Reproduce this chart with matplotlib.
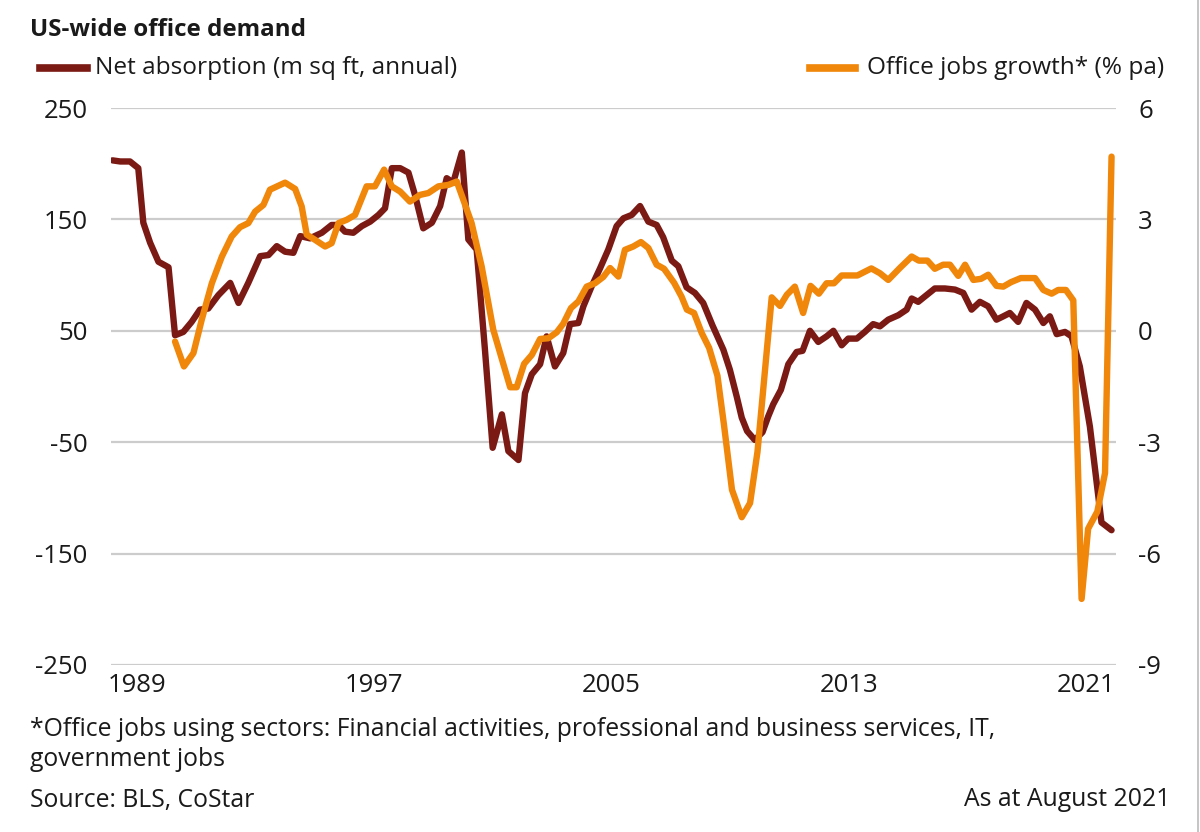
import matplotlib
matplotlib.use("Agg")
import matplotlib.pyplot as plt
from matplotlib.lines import Line2D

plt.rcParams['font.family'] = ['Open Sans', 'DejaVu Sans']
plt.rcParams['axes.unicode_minus'] = False

# ---- data ----
absorption_years = [1988.17, 1988.43, 1988.76, 1989.04, 1989.21, 1989.44, 1989.72, 1990.06, 1990.28, 1990.56,
                    1990.84, 1991.12, 1991.40, 1991.74, 1992.14, 1992.42, 1992.75, 1993.15, 1993.43, 1993.71,
                    1993.99, 1994.27, 1994.50, 1994.83, 1995.23, 1995.56, 1995.79, 1996.01, 1996.29, 1996.58,
                    1996.86, 1997.14, 1997.36, 1997.59, 1997.87, 1998.15, 1998.37, 1998.65, 1998.94, 1999.22,
                    1999.44, 1999.66, 1999.95, 2000.17, 2000.45, 2000.73, 2000.99, 2001.30, 2001.52, 2001.86,
                    2002.08, 2002.31, 2002.59, 2002.81, 2003.09, 2003.37, 2003.60, 2003.88, 2004.05, 2004.33,
                    2004.61, 2004.89, 2005.17, 2005.40, 2005.68, 2005.96, 2006.24, 2006.52, 2006.74, 2007.03,
                    2007.25, 2007.53, 2007.81, 2008.09, 2008.40, 2008.77, 2008.99, 2009.22, 2009.39, 2009.57,
                    2009.83, 2010.09, 2010.28, 2010.45, 2010.71, 2010.96, 2011.24, 2011.44, 2011.69, 2011.97,
                    2012.25, 2012.48, 2012.76, 2012.98, 2013.27, 2013.54, 2013.82, 2014.05, 2014.33, 2014.67,
                    2014.95, 2015.12, 2015.34, 2015.62, 2015.90, 2016.24, 2016.58, 2016.86, 2017.14, 2017.42,
                    2017.70, 2017.98, 2018.21, 2018.43, 2018.71, 2018.99, 2019.28, 2019.56, 2019.78, 2020.01,
                    2020.29, 2020.51, 2020.79, 2021.13, 2021.52, 2021.86]
absorption = [203, 202, 202, 196, 147, 129, 112, 107, 46, 49,
              58, 69, 70, 82, 93, 75, 93, 117, 118, 126,
              121, 120, 135, 133, 138, 145, 145, 139, 138, 144,
              148, 154, 160, 196, 196, 192, 172, 142, 147, 162,
              187, 183, 210, 132, 123, 33, -55, -25, -58, -66,
              -6, 11, 20, 45, 18, 30, 56, 57, 72, 90,
              106, 123, 144, 151, 154, 162, 148, 145, 134, 113,
              108, 89, 84, 75, 55, 33, 15, -9, -28, -40,
              -48, -41, -27, -16, -3, 20, 31, 32, 50, 40,
              45, 50, 37, 43, 43, 49, 56, 54, 60, 64,
              69, 79, 76, 82, 88, 88, 87, 84, 69, 76,
              72, 60, 63, 66, 58, 75, 69, 57, 63, 47,
              49, 45, 18, -36, -122, -129]

jobs_years = [1990.28, 1990.58, 1990.90, 1991.18, 1991.52, 1991.86, 1992.19, 1992.47, 1992.75, 1992.98,
              1993.26, 1993.48, 1993.99, 1994.33, 1994.55, 1994.72, 1995.00, 1995.34, 1995.56, 1995.79,
              1996.07, 1996.35, 1996.74, 1997.02, 1997.33, 1997.59, 1997.87, 1998.20, 1998.54, 1998.82,
              1999.16, 1999.50, 1999.78, 2000.00, 2000.28, 2000.62, 2001.01, 2001.58, 2001.80, 2002.05,
              2002.31, 2002.59, 2002.87, 2003.15, 2003.37, 2003.63, 2003.88, 2004.16, 2004.44, 2004.72,
              2004.95, 2005.23, 2005.45, 2005.73, 2005.99, 2006.24, 2006.52, 2006.77, 2007.11, 2007.36,
              2007.54, 2007.78, 2008.04, 2008.29, 2008.57, 2008.79, 2009.06, 2009.39, 2009.67, 2009.92,
              2010.40, 2010.68, 2010.91, 2011.18, 2011.46, 2011.71, 2011.99, 2012.25, 2012.50, 2012.76,
              2013.29, 2013.76, 2014.05, 2014.33, 2014.72, 2015.12, 2015.36, 2015.65, 2015.90, 2016.18,
              2016.41, 2016.69, 2016.92, 2017.20, 2017.46, 2017.70, 2017.98, 2018.21, 2018.47, 2018.80,
              2019.28, 2019.56, 2019.84, 2020.06, 2020.32, 2020.57, 2020.85, 2021.07, 2021.38, 2021.64,
              2021.86]
jobs_growth = [-0.29, -0.96, -0.60, 0.30, 1.28, 2.00, 2.54, 2.79, 2.90, 3.21,
               3.39, 3.80, 3.99, 3.82, 3.35, 2.59, 2.45, 2.27, 2.36, 2.90,
               2.99, 3.12, 3.89, 3.89, 4.34, 3.89, 3.75, 3.48, 3.66, 3.71,
               3.89, 3.93, 4.02, 3.53, 2.90, 1.73, 0.03, -1.52, -1.52, -0.89,
               -0.65, -0.22, -0.20, -0.04, 0.19, 0.61, 0.79, 1.19, 1.28, 1.45,
               1.69, 1.46, 2.18, 2.27, 2.39, 2.23, 1.78, 1.67, 1.29, 0.92,
               0.57, 0.48, -0.06, -0.46, -1.21, -2.53, -4.28, -5.02, -4.64, -3.26,
               0.90, 0.67, 0.97, 1.19, 0.48, 1.21, 1.00, 1.28, 1.28, 1.49,
               1.49, 1.68, 1.55, 1.37, 1.69, 2.00, 1.89, 1.89, 1.67, 1.78,
               1.78, 1.48, 1.78, 1.37, 1.40, 1.51, 1.21, 1.19, 1.31, 1.42,
               1.42, 1.10, 1.00, 1.10, 1.10, 0.82, -7.22, -5.33, -4.87, -3.83,
               4.69]

year_ticks = [1989, 1997, 2005, 2013, 2021]
left_ticks = [-250, -150, -50, 50, 150, 250]
right_ticks = [-9, -6, -3, 0, 3, 6]

DARK = '#7B1A14'
ORANGE = '#F0860A'
GRID = '#CCCCCC'
TXT = '#1a1a1a'

W, H = 1200, 832
fig = plt.figure(figsize=(12, 8.32), dpi=100)
ax = fig.add_axes([111 / W, 1 - 665 / H, (1116 - 111) / W, (665 - 108) / H])
ax2 = ax.twinx()

ax.set_xlim(1988.12, 2022.01)
ax.set_ylim(-250, 250)
ax2.set_ylim(-9, 6)

for v in left_ticks:
    ax.axhline(v, color=GRID, lw=1.6, zorder=0)

ax.plot(absorption_years, absorption, color=DARK, lw=4.6, solid_joinstyle='round',
        solid_capstyle='round', zorder=3)
ax2.plot(jobs_years, jobs_growth, color=ORANGE, lw=4.6, solid_joinstyle='round',
         solid_capstyle='round', zorder=3)

for a in (ax, ax2):
    for s in a.spines.values():
        s.set_visible(False)
    a.tick_params(length=0, labelsize=18.5, colors=TXT)

ax.set_xticks(year_ticks)
ax.set_xticklabels([str(y) for y in year_ticks])
ax.tick_params(axis='x', pad=6)
ax.set_yticks(left_ticks)
ax.set_yticklabels([str(v) for v in left_ticks])
ax.tick_params(axis='y', pad=17)
ax2.set_yticks(right_ticks)
ax2.set_yticklabels([str(v) for v in right_ticks])
ax2.tick_params(axis='y', pad=16)

# title
fig.text(30 / W, 1 - 30 / H, 'US-wide office demand', fontsize=17.4, fontweight='bold',
         color=TXT, ha='left', va='center')

# legend
ly = 1 - 68 / H
fig.add_artist(Line2D([40 / W, 87 / W], [ly, ly], color=DARK, lw=5.5))
fig.text(95 / W, ly, 'Net absorption (m sq ft, annual)', fontsize=17.6, color=TXT,
         ha='left', va='center')
fig.add_artist(Line2D([810 / W, 855 / W], [ly, ly], color=ORANGE, lw=5.5))
fig.text(867 / W, ly, 'Office jobs growth* (% pa)', fontsize=17.6, color=TXT,
         ha='left', va='center')

# footnotes
fig.text(30 / W, 1 - 730 / H, '*Office jobs using sectors: Financial activities, professional and business services, IT,',
         fontsize=17.8, color=TXT, ha='left', va='center')
fig.text(30 / W, 1 - 760 / H, 'government jobs', fontsize=17.8, color=TXT, ha='left', va='center')
fig.text(30 / W, 1 - 800 / H, 'Source: BLS, CoStar', fontsize=17.8, color=TXT, ha='left', va='center')
fig.text(1170 / W, 1 - 800 / H, 'As at August 2021', fontsize=17.8, color=TXT, ha='right', va='center')

# right border line
fig.add_artist(Line2D([1197.5 / W, 1197.5 / W], [0, 1], color='#BBBBBB', lw=1.2))

fig.savefig('out.png', dpi=100, facecolor='white')
